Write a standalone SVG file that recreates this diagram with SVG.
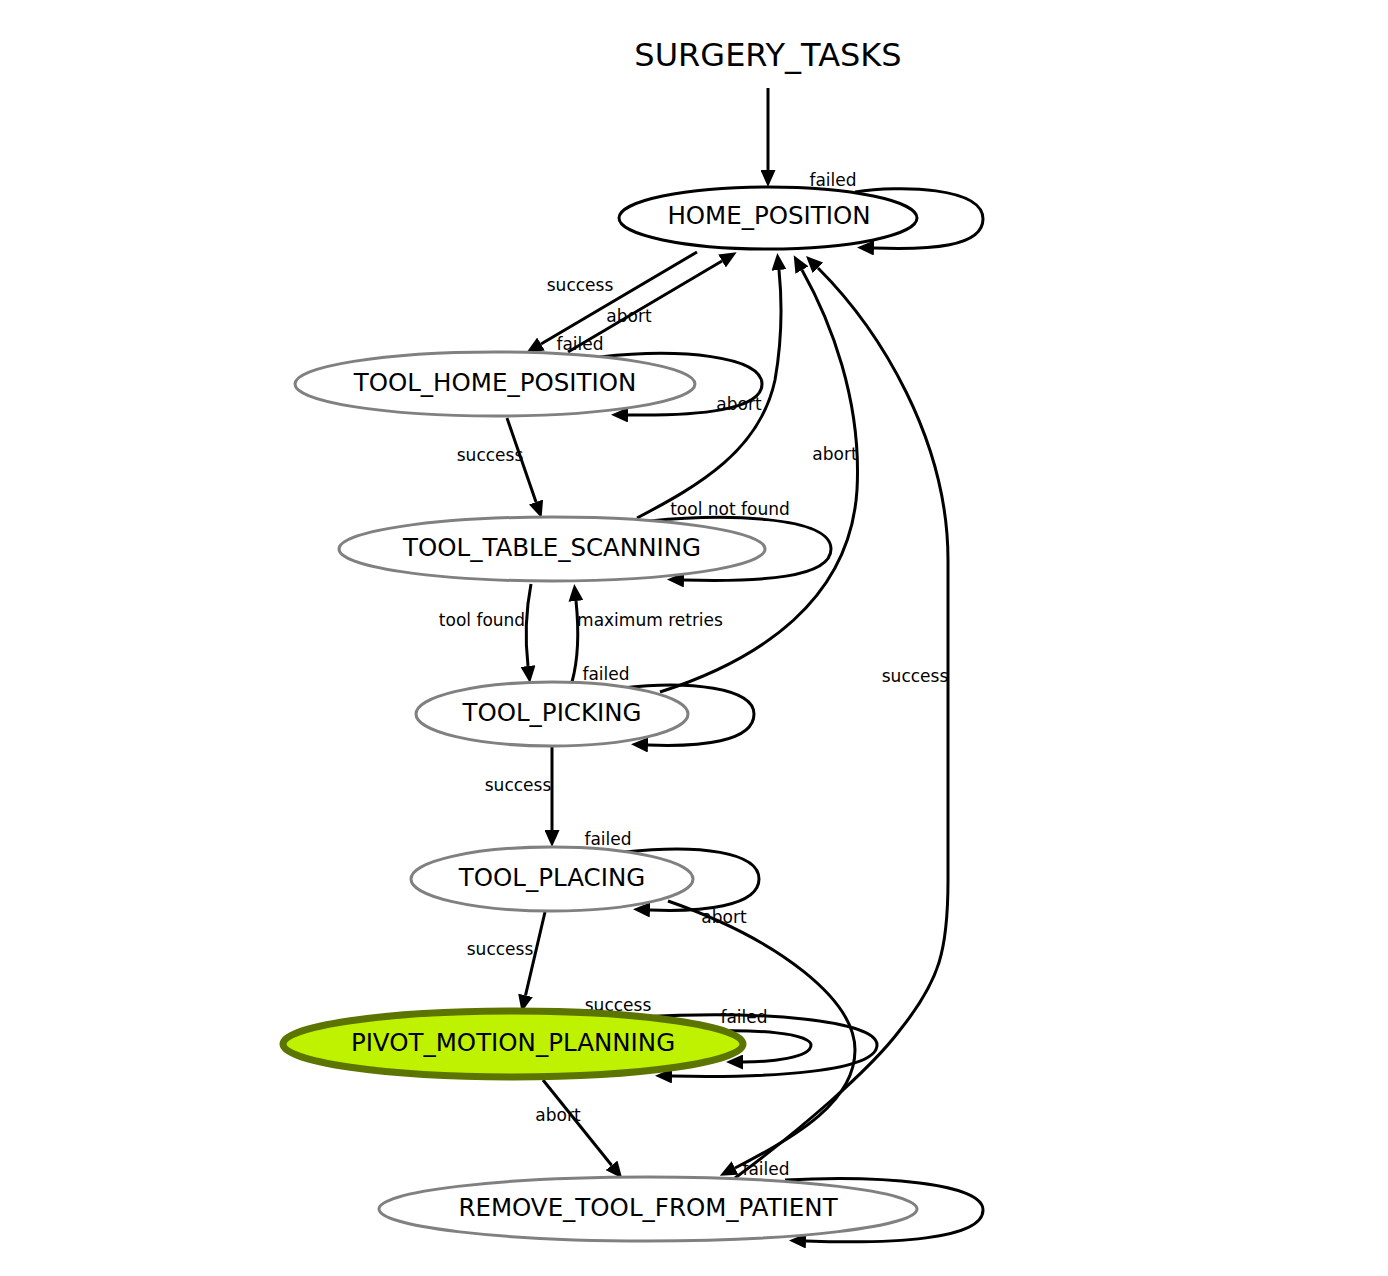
<svg xmlns="http://www.w3.org/2000/svg" width="1388" height="1276" viewBox="0 0 1388 1276">
<style>
.node ellipse{fill:#ffffff;stroke:#808080;stroke-width:3}
.node text{font-family:"DejaVu Sans","Liberation Sans",sans-serif;font-size:24.5px;text-anchor:middle;fill:#000}
.edge path{fill:none;stroke:#000;stroke-width:3;marker-end:url(#arr)}
.lbl{font-family:"DejaVu Sans","Liberation Sans",sans-serif;font-size:17px;text-anchor:middle;fill:#000}
</style>
<defs>
<marker id="arr" markerUnits="userSpaceOnUse" viewBox="0 0 17 15" markerWidth="17" markerHeight="15" refX="0" refY="7.5" orient="auto">
<path d="M0,0 L17,7.5 L0,15 z" fill="#000"/>
</marker>
</defs>
<rect width="1388" height="1276" fill="#ffffff"/>
<g id="connectors">
<g class="edge"><path d="M768,88 L768,170"/></g>
<g class="edge"><path d="M855,192 C900,185 983,187 983,219 C983,247 930,250 874,248"/><text class="lbl" x="833" y="186">failed</text></g>
<g class="edge"><path d="M697,252 L541,344"/><text class="lbl" x="580" y="291">success</text></g>
<g class="edge"><path d="M568,352 L722,261"/><text class="lbl" x="629" y="322">abort</text></g>
<g class="edge"><path d="M600,357 C680,348 762,356 762,384 C762,410 700,416 628,415"/><text class="lbl" x="580" y="350">failed</text></g>
<g class="edge"><path d="M507,418 L536,502"/><text class="lbl" x="490" y="461">success</text></g>
<g class="edge"><path d="M637,518 C700,485 760,450 775,380 C782,340 782,300 779,270"/><text class="lbl" x="739" y="410">abort</text></g>
<g class="edge"><path d="M650,521 C720,514 831,515 831,549 C831,578 760,582 684,580"/><text class="lbl" x="730" y="515">tool not found</text></g>
<g class="edge"><path d="M531,584 C526,610 525,640 528,666"/><text class="lbl" x="482" y="626">tool found</text></g>
<g class="edge"><path d="M572,682 C578,660 579,630 576,601"/><text class="lbl" x="650" y="626">maximum retries</text></g>
<g class="edge"><path d="M622,688 C690,680 754,688 754,714 C754,742 700,747 648,745"/><text class="lbl" x="606" y="680">failed</text></g>
<g class="edge"><path d="M660,692 C760,660 850,600 857,490 C862,400 830,320 802,270"/><text class="lbl" x="835" y="460">abort</text></g>
<g class="edge"><path d="M552,747 L552,830"/><text class="lbl" x="518" y="791">success</text></g>
<g class="edge"><path d="M625,852 C700,844 759,852 759,879 C759,907 700,912 650,910"/><text class="lbl" x="608" y="845">failed</text></g>
<g class="edge"><path d="M668,901 C780,940 855,1000 855,1050 C855,1100 800,1135 735,1168"/><text class="lbl" x="724" y="923">abort</text></g>
<g class="edge"><path d="M545,912 L525.5,995.4"/><text class="lbl" x="500" y="955">success</text></g>
<g class="edge"><path d="M690,1032 C760,1028 811,1034 811,1045 C811,1058 770,1062 743,1062"/><text class="lbl" x="618" y="1011">success</text></g>
<g class="edge"><path d="M640,1017 C760,1010 877,1020 877,1045 C877,1072 770,1078 672,1076"/><text class="lbl" x="744" y="1023">failed</text></g>
<g class="edge"><path d="M543,1080 L611.6,1165.3"/><text class="lbl" x="558" y="1121">abort</text></g>
<g class="edge"><path d="M785,1180 C880,1175 983,1183 983,1210 C983,1240 890,1244 806,1241"/><text class="lbl" x="766" y="1175">failed</text></g>
<g class="edge"><path d="M735,1178 C800,1130 870,1070 900,1030 C940,980 948,950 948,880 L948,560 C948,440 880,330 818,268"/><text class="lbl" x="915" y="682">success</text></g>
</g>
<g id="SURGERY_TASKS"><text x="768" y="66" font-family="DejaVu Sans, Liberation Sans, sans-serif" font-size="32" text-anchor="middle">SURGERY_TASKS</text></g>
<g id="HOME_POSITION" class="node"><ellipse cx="768" cy="218" rx="149" ry="31" style="stroke:#000"/><text x="769" y="224">HOME_POSITION</text></g>
<g id="TOOL_HOME_POSITION" class="node"><ellipse cx="495" cy="384" rx="200" ry="32"/><text x="495" y="391">TOOL_HOME_POSITION</text></g>
<g id="TOOL_TABLE_SCANNING" class="node"><ellipse cx="552" cy="549" rx="213" ry="32"/><text x="552" y="556">TOOL_TABLE_SCANNING</text></g>
<g id="TOOL_PICKING" class="node"><ellipse cx="552" cy="714" rx="136" ry="32"/><text x="552" y="721">TOOL_PICKING</text></g>
<g id="TOOL_PLACING" class="node"><ellipse cx="552" cy="879" rx="141" ry="32"/><text x="552" y="886">TOOL_PLACING</text></g>
<g id="PIVOT_MOTION_PLANNING" class="node"><ellipse cx="513" cy="1044" rx="230" ry="33" style="fill:#bff200;stroke:#5b7500;stroke-width:7"/><text x="513" y="1051">PIVOT_MOTION_PLANNING</text></g>
<g id="REMOVE_TOOL_FROM_PATIENT" class="node"><ellipse cx="648" cy="1209" rx="269" ry="32"/><text x="648" y="1216">REMOVE_TOOL_FROM_PATIENT</text></g>
</svg>
